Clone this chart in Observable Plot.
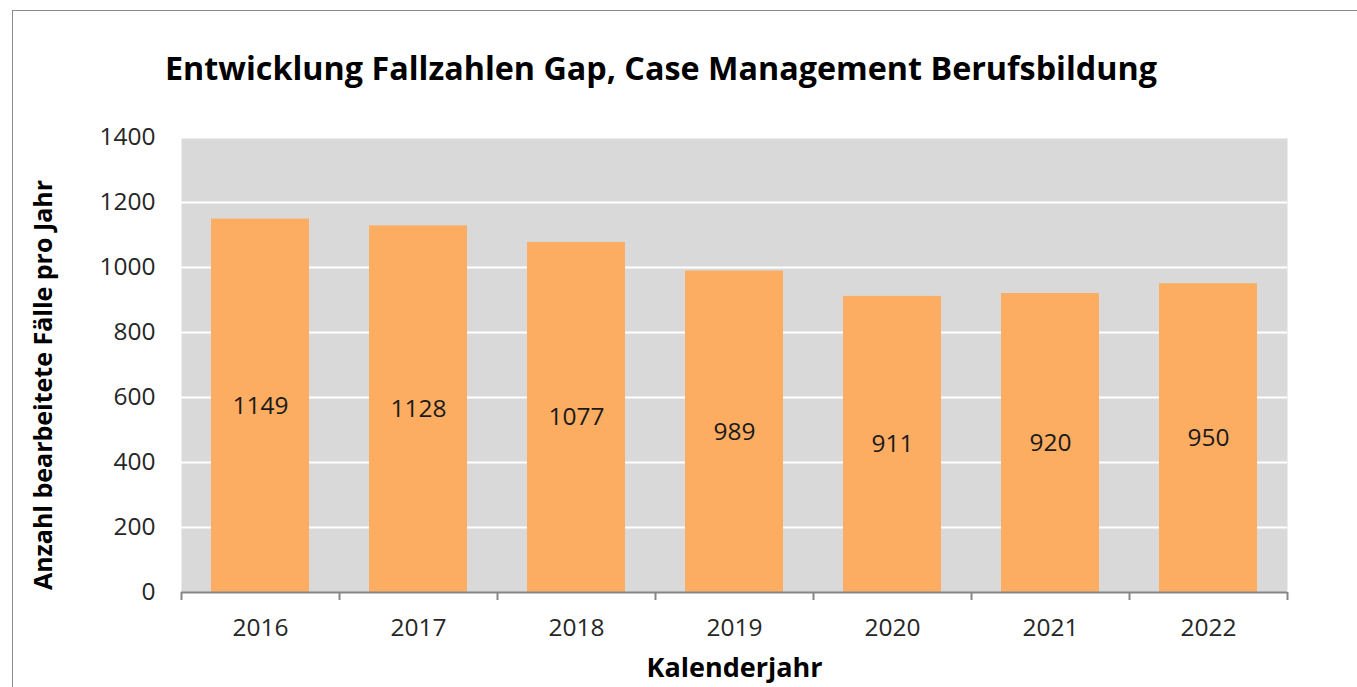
<!DOCTYPE html>
<html>
<head>
<meta charset="utf-8">
<script src="https://cdn.jsdelivr.net/npm/d3@7"></script>
<script src="https://cdn.jsdelivr.net/npm/@observablehq/plot@0.6"></script>
<style>
  html, body { margin: 0; padding: 0; background: #fff; overflow: hidden; }
  #page { position: relative; width: 1357px; height: 687px; overflow: hidden; font-family: "Open Sans", sans-serif; }
  #border { position: absolute; left: 12px; top: 10px; width: 1400px; height: 720px; border: 1.5px solid #8a8a8a; box-sizing: border-box; }
  #title { position: absolute; left: 0; top: 42px; width: 1322px; text-align: center; font-weight: 700; font-size: 32.3px; color: #000; white-space: nowrap; line-height: 50px; }
  #chart { position: absolute; left: 0; top: 0; }
</style>
</head>
<body>
<div id="page">
  <div id="border"></div>
  <div id="chart"></div>
  <div id="title"></div>
</div>
<script>
const titleText = "Entwicklung Fallzahlen Gap, Case Management Berufsbildung";
const yLabel = "Anzahl bearbeitete Fälle pro Jahr";
const xLabel = "Kalenderjahr";
const years = ["2016", "2017", "2018", "2019", "2020", "2021", "2022"];
const cases = [1149, 1128, 1077, 989, 911, 920, 950];
const yTicks = [0, 200, 400, 600, 800, 1000, 1200, 1400];
const gridTicks = [200, 400, 600, 800, 1000, 1200, 1400];

const data = years.map((y, i) => ({year: y, value: cases[i]}));

document.getElementById("title").textContent = titleText;

const W = 1357, H = 687;
const mL = 181, mR = 70, mT = 137, mB = 95;
const step = (W - mL - mR) / years.length;
const font = "Open Sans, sans-serif";

const chart = Plot.plot({
  width: W,
  height: H,
  marginLeft: mL,
  marginRight: mR,
  marginTop: mT,
  marginBottom: mB,
  style: {fontFamily: font, fontSize: "24.5px", color: "#262626", background: "transparent", overflow: "visible"},
  x: {type: "band", domain: years, paddingInner: 0.38, paddingOuter: 0.19},
  y: {domain: [0, 1400]},
  marks: [
    Plot.frame({fill: "#d9d9d9", stroke: null}),
    Plot.gridY(gridTicks, {stroke: "#ffffff", strokeOpacity: 1, strokeWidth: 2.2}),
    Plot.barY(data, {x: "year", y: "value", fill: "#fcad62"}),
    Plot.text(data, {x: "year", y: d => d.value / 2, text: d => String(d.value), fill: "#1a1a1a", fontSize: 24.5}),
    Plot.ruleY([0], {stroke: "#868686", strokeWidth: 2}),
    Plot.ruleX(years, {x: d => d, dx: -step / 2, y1: 0, y2: 0, insetBottom: -8, stroke: "#868686", strokeWidth: 2}),
    Plot.ruleX([years[years.length - 1]], {x: d => d, dx: step / 2, y1: 0, y2: 0, insetBottom: -8, stroke: "#868686", strokeWidth: 2}),
    Plot.axisY(yTicks, {tickSize: 0, tickPadding: 26, label: null, tickFormat: d => String(d), fontSize: 24.5, fill: "#262626"}),
    Plot.axisX({tickSize: 0, tickPadding: 26, label: null, fontSize: 24.5, fill: "#262626"}),
    Plot.text([yLabel], {frameAnchor: "left", textAnchor: "middle", dx: -138, dy: 20, rotate: -90, fontWeight: 700, fontSize: 25, fill: "#000"}),
    Plot.text([xLabel], {frameAnchor: "bottom", dy: 84, fontWeight: 700, fontSize: 27, fill: "#000"})
  ]
});
document.getElementById("chart").appendChild(chart);
</script>
</body>
</html>
